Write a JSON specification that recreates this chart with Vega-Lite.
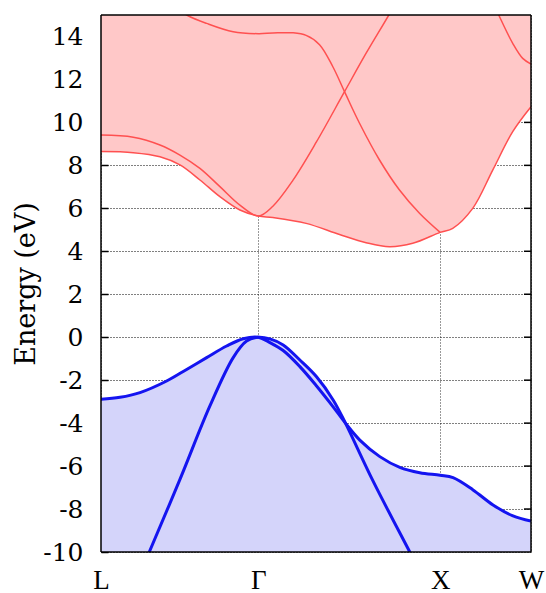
{
  "$schema": "https://vega.github.io/schema/vega-lite/v6.json",
  "width": 430,
  "height": 537,
  "autosize": "none",
  "padding": {"left": 101, "top": 15, "right": 15, "bottom": 41},
  "background": "white",
  "config": {
    "font": "Liberation Serif",
    "view": {"stroke": null},
    "style": {"guide-label": {"font": "Liberation Serif"}, "guide-title": {"font": "Liberation Serif", "fontWeight": "normal"}},
    "axis": {"labelColor": "#000", "titleColor": "#000"}
  },
  "datasets": {
    "yticks": [
      {"E": -10}, {"E": -8}, {"E": -6}, {"E": -4}, {"E": -2}, {"E": 0}, {"E": 2},
      {"E": 4}, {"E": 6}, {"E": 8}, {"E": 10}, {"E": 12}, {"E": 14}
    ],
    "cenv": [
      {"k": 0, "E": 8.64}, {"k": 0.1776, "E": 8.59}, {"k": 0.3244, "E": 8.40}, {"k": 0.4344, "E": 8.02},
      {"k": 0.5443, "E": 7.32}, {"k": 0.6543, "E": 6.54}, {"k": 0.7643, "E": 5.92}, {"k": 0.866, "E": 5.64},
      {"k": 0.9457, "E": 5.57}, {"k": 1.1288, "E": 5.30}, {"k": 1.3125, "E": 4.78}, {"k": 1.4588, "E": 4.40},
      {"k": 1.5874, "E": 4.21}, {"k": 1.7155, "E": 4.37}, {"k": 1.866, "E": 4.88}, {"k": 1.9355, "E": 5.07},
      {"k": 2.0454, "E": 6.0}, {"k": 2.1554, "E": 7.78}, {"k": 2.2654, "E": 9.57}, {"k": 2.366, "E": 10.73}
    ],
    "venv": [
      {"k": 0, "E": -2.89}, {"k": 0.1045, "E": -2.80}, {"k": 0.2144, "E": -2.58}, {"k": 0.3612, "E": -2.04},
      {"k": 0.4712, "E": -1.50}, {"k": 0.5812, "E": -0.95}, {"k": 0.6912, "E": -0.41}, {"k": 0.7824, "E": -0.07},
      {"k": 0.866, "E": 0}, {"k": 0.9294, "E": -0.08}, {"k": 1.0024, "E": -0.36}, {"k": 1.0942, "E": -1.06},
      {"k": 1.186, "E": -1.84}, {"k": 1.2773, "E": -2.92}, {"k": 1.345, "E": -4.0}, {"k": 1.4241, "E": -4.79},
      {"k": 1.5341, "E": -5.56}, {"k": 1.6441, "E": -6.06}, {"k": 1.754, "E": -6.31}, {"k": 1.866, "E": -6.43},
      {"k": 1.9371, "E": -6.54}, {"k": 2.0471, "E": -7.11}, {"k": 2.1571, "E": -7.81}, {"k": 2.267, "E": -8.32},
      {"k": 2.366, "E": -8.56}
    ],
    "cb": [
      {"band": "c1", "k": 0, "E": 8.64}, {"band": "c1", "k": 0.1776, "E": 8.59}, {"band": "c1", "k": 0.3244, "E": 8.40},
      {"band": "c1", "k": 0.4344, "E": 8.02}, {"band": "c1", "k": 0.5443, "E": 7.32}, {"band": "c1", "k": 0.6543, "E": 6.54},
      {"band": "c1", "k": 0.7643, "E": 5.92}, {"band": "c1", "k": 0.866, "E": 5.64}, {"band": "c1", "k": 0.9457, "E": 5.57},
      {"band": "c1", "k": 1.1288, "E": 5.30}, {"band": "c1", "k": 1.3125, "E": 4.78}, {"band": "c1", "k": 1.4588, "E": 4.40},
      {"band": "c1", "k": 1.5874, "E": 4.21}, {"band": "c1", "k": 1.7155, "E": 4.37}, {"band": "c1", "k": 1.866, "E": 4.88},
      {"band": "c1", "k": 1.9355, "E": 5.07}, {"band": "c1", "k": 2.0454, "E": 6.0}, {"band": "c1", "k": 2.1554, "E": 7.78},
      {"band": "c1", "k": 2.2654, "E": 9.57}, {"band": "c1", "k": 2.366, "E": 10.73},
      {"band": "c2", "k": 0, "E": 9.41}, {"band": "c2", "k": 0.1776, "E": 9.31}, {"band": "c2", "k": 0.3244, "E": 8.95},
      {"band": "c2", "k": 0.4344, "E": 8.48}, {"band": "c2", "k": 0.5443, "E": 7.86}, {"band": "c2", "k": 0.6543, "E": 7.01},
      {"band": "c2", "k": 0.7643, "E": 6.15}, {"band": "c2", "k": 0.866, "E": 5.64}, {"band": "c2", "k": 0.9457, "E": 6.1},
      {"band": "c2", "k": 1.0557, "E": 7.3}, {"band": "c2", "k": 1.186, "E": 9.1},
      {"band": "c2", "k": 1.34, "E": 11.43}, {"band": "c2", "k": 1.4588, "E": 13.22}, {"band": "c2", "k": 1.5836, "E": 15.0},
      {"band": "c2", "k": 1.65, "E": 16.0},
      {"band": "c3", "k": 0.30, "E": 15.9}, {"band": "c3", "k": 0.4712, "E": 15.0}, {"band": "c3", "k": 0.5812, "E": 14.61},
      {"band": "c3", "k": 0.7274, "E": 14.22}, {"band": "c3", "k": 0.866, "E": 14.13}, {"band": "c3", "k": 0.9457, "E": 14.16},
      {"band": "c3", "k": 1.0557, "E": 14.17}, {"band": "c3", "k": 1.1288, "E": 14.05}, {"band": "c3", "k": 1.2025, "E": 13.62},
      {"band": "c3", "k": 1.2757, "E": 12.59}, {"band": "c3", "k": 1.34, "E": 11.43}, {"band": "c3", "k": 1.4225, "E": 9.96},
      {"band": "c3", "k": 1.5324, "E": 8.25}, {"band": "c3", "k": 1.6424, "E": 6.85}, {"band": "c3", "k": 1.7524, "E": 5.77},
      {"band": "c3", "k": 1.866, "E": 4.88},
      {"band": "c4", "k": 2.14, "E": 15.9}, {"band": "c4", "k": 2.1884, "E": 15.0}, {"band": "c4", "k": 2.2654, "E": 13.68},
      {"band": "c4", "k": 2.3204, "E": 12.98}, {"band": "c4", "k": 2.366, "E": 12.72}
    ],
    "vb": [
      {"band": "v1", "k": 0, "E": -2.89}, {"band": "v1", "k": 0.1045, "E": -2.80}, {"band": "v1", "k": 0.2144, "E": -2.58},
      {"band": "v1", "k": 0.3612, "E": -2.04}, {"band": "v1", "k": 0.4712, "E": -1.50}, {"band": "v1", "k": 0.5812, "E": -0.95},
      {"band": "v1", "k": 0.6912, "E": -0.41}, {"band": "v1", "k": 0.7824, "E": -0.07}, {"band": "v1", "k": 0.866, "E": 0},
      {"band": "v1", "k": 0.9294, "E": -0.25}, {"band": "v1", "k": 1.0024, "E": -0.62}, {"band": "v1", "k": 1.0942, "E": -1.37},
      {"band": "v1", "k": 1.186, "E": -2.27}, {"band": "v1", "k": 1.2773, "E": -3.24}, {"band": "v1", "k": 1.345, "E": -4.0},
      {"band": "v1", "k": 1.4241, "E": -4.79}, {"band": "v1", "k": 1.5341, "E": -5.56}, {"band": "v1", "k": 1.6441, "E": -6.06},
      {"band": "v1", "k": 1.754, "E": -6.31}, {"band": "v1", "k": 1.866, "E": -6.43}, {"band": "v1", "k": 1.9371, "E": -6.54},
      {"band": "v1", "k": 2.0471, "E": -7.11}, {"band": "v1", "k": 2.1571, "E": -7.81}, {"band": "v1", "k": 2.267, "E": -8.32},
      {"band": "v1", "k": 2.366, "E": -8.56},
      {"band": "v2", "k": 0.2144, "E": -11.03}, {"band": "v2", "k": 0.2656, "E": -10.0}, {"band": "v2", "k": 0.4344, "E": -6.62},
      {"band": "v2", "k": 0.5993, "E": -3.20}, {"band": "v2", "k": 0.7274, "E": -0.95}, {"band": "v2", "k": 0.8011, "E": -0.18},
      {"band": "v2", "k": 0.866, "E": 0}, {"band": "v2", "k": 0.9294, "E": -0.08}, {"band": "v2", "k": 1.0024, "E": -0.36},
      {"band": "v2", "k": 1.0942, "E": -1.06}, {"band": "v2", "k": 1.186, "E": -1.84}, {"band": "v2", "k": 1.2773, "E": -2.92},
      {"band": "v2", "k": 1.345, "E": -4.0}, {"band": "v2", "k": 1.4972, "E": -6.70}, {"band": "v2", "k": 1.699, "E": -10.0},
      {"band": "v2", "k": 1.754, "E": -10.9}
    ]
  },
  "layer": [
    {
      "data": {"name": "yticks"},
      "mark": {"type": "tick", "orient": "horizontal", "size": 14, "thickness": 1.5, "color": "#000", "opacity": 1, "clip": true},
      "encoding": {
        "x": {"datum": 2.366, "type": "quantitative", "scale": {"domain": [0, 2.366], "nice": false, "zero": false}},
        "y": {"field": "E", "type": "quantitative", "scale": {"domain": [-10, 15], "nice": false, "zero": false}}
      }
    },
    {
      "data": {"name": "cenv"},
      "mark": {"type": "area", "interpolate": "catmull-rom", "color": "#ffc8c8", "clip": true},
      "encoding": {
        "x": {"field": "k", "type": "quantitative", "scale": {"domain": [0, 2.366], "nice": false, "zero": false},
          "axis": {"values": [0, 0.866, 1.866, 2.366],
            "labelExpr": "datum.value == 0 ? 'L' : datum.value == 0.866 ? 'Γ' : datum.value == 1.866 ? 'X' : 'W'",
            "title": null, "ticks": false, "domain": false, "grid": true, "gridDash": [1, 2], "gridColor": "#000", "gridOpacity": 0.8, "gridWidth": 1,
            "labelFont": "Liberation Serif", "labelFontSize": 27, "labelColor": "#000", "labelBaseline": "alphabetic", "labelPadding": 36, "labelFlush": false}},
        "y": {"field": "E", "type": "quantitative", "scale": {"domain": [-10, 15], "nice": false, "zero": false},
          "axis": {"orient": "left", "values": [-10, -8, -6, -4, -2, 0, 2, 4, 6, 8, 10, 12, 14],
            "labelExpr": "'' + datum.value", "title": "Energy (eV)",
            "titleFont": "DejaVu Serif", "titleFontSize": 27, "titleFontWeight": "normal", "titleColor": "#000", "titlePadding": 2,
            "labelFont": "DejaVu Serif", "labelFontSize": 25, "labelColor": "#000", "labelPadding": 25,
            "ticks": true, "tickSize": -7, "tickWidth": 1.5, "tickColor": "#000", "domain": false,
            "grid": true, "gridDash": [1, 2], "gridColor": "#000", "gridWidth": 1}},
        "y2": {"datum": 15}
      }
    },
    {
      "data": {"name": "venv"},
      "mark": {"type": "area", "interpolate": "catmull-rom", "color": "#d4d4fa", "clip": true},
      "encoding": {
        "x": {"field": "k", "type": "quantitative", "scale": {"domain": [0, 2.366], "nice": false, "zero": false}},
        "y": {"field": "E", "type": "quantitative", "scale": {"domain": [-10, 15], "nice": false, "zero": false}},
        "y2": {"datum": -10}
      }
    },
    {
      "data": {"name": "cb"},
      "mark": {"type": "line", "interpolate": "catmull-rom", "color": "#ff5050", "strokeWidth": 1.5, "clip": true},
      "encoding": {
        "x": {"field": "k", "type": "quantitative", "scale": {"domain": [0, 2.366], "nice": false, "zero": false}},
        "y": {"field": "E", "type": "quantitative", "scale": {"domain": [-10, 15], "nice": false, "zero": false}},
        "detail": {"field": "band"}
      }
    },
    {
      "data": {"name": "vb"},
      "mark": {"type": "line", "interpolate": "catmull-rom", "color": "#1414f0", "strokeWidth": 3, "clip": true},
      "encoding": {
        "x": {"field": "k", "type": "quantitative", "scale": {"domain": [0, 2.366], "nice": false, "zero": false}},
        "y": {"field": "E", "type": "quantitative", "scale": {"domain": [-10, 15], "nice": false, "zero": false}},
        "detail": {"field": "band"}
      }
    },
    {
      "data": {"values": [{}]},
      "mark": {"type": "rule", "color": "#000", "strokeWidth": 1.5},
      "encoding": {"x": {"datum": 0, "type": "quantitative", "scale": {"domain": [0, 2.366], "nice": false, "zero": false}}}
    },
    {
      "data": {"values": [{}]},
      "mark": {"type": "rule", "color": "#000", "strokeWidth": 1.5},
      "encoding": {"x": {"datum": 2.366, "type": "quantitative", "scale": {"domain": [0, 2.366], "nice": false, "zero": false}}}
    },
    {
      "data": {"values": [{}]},
      "mark": {"type": "rule", "color": "#000", "strokeWidth": 1.5},
      "encoding": {"y": {"datum": 15, "type": "quantitative", "scale": {"domain": [-10, 15], "nice": false, "zero": false}}}
    },
    {
      "data": {"values": [{}]},
      "mark": {"type": "rule", "color": "#000", "strokeWidth": 1.5},
      "encoding": {"y": {"datum": -10, "type": "quantitative", "scale": {"domain": [-10, 15], "nice": false, "zero": false}}}
    }
  ]
}
